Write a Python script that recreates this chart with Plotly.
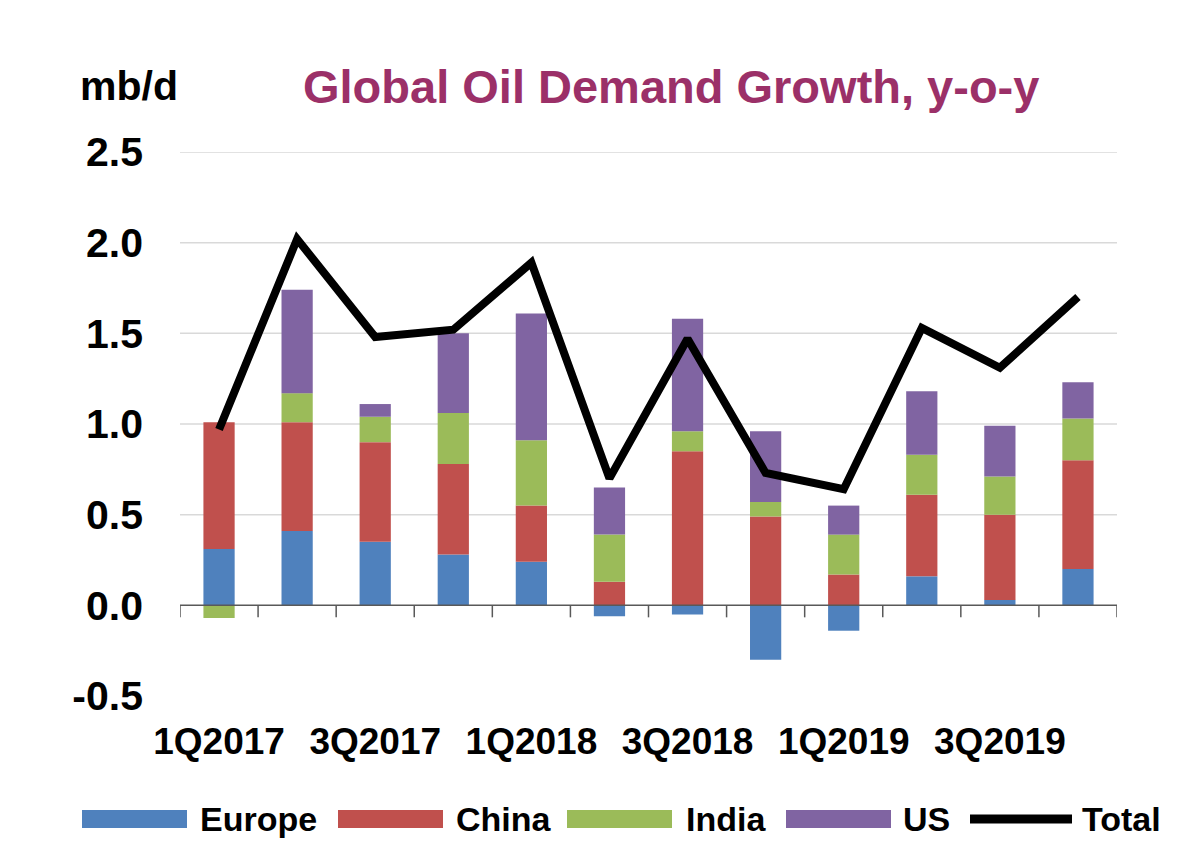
import plotly.graph_objects as go

quarters = ["1Q2017", "2Q2017", "3Q2017", "4Q2017", "1Q2018", "2Q2018",
            "3Q2018", "4Q2018", "1Q2019", "2Q2019", "3Q2019", "4Q2019"]
label_quarters = ["1Q2017", "3Q2017", "1Q2018", "3Q2018", "1Q2019", "3Q2019"]
europe = [0.31, 0.41, 0.35, 0.28, 0.24, -0.06, -0.05, -0.30, -0.14, 0.16, 0.03, 0.20]
china = [0.70, 0.60, 0.55, 0.50, 0.31, 0.13, 0.85, 0.49, 0.17, 0.45, 0.47, 0.60]
india = [-0.07, 0.16, 0.14, 0.28, 0.36, 0.26, 0.11, 0.08, 0.22, 0.22, 0.21, 0.23]
us = [0.00, 0.57, 0.07, 0.44, 0.70, 0.26, 0.62, 0.39, 0.16, 0.35, 0.28, 0.20]
total = [0.97, 2.02, 1.48, 1.52, 1.89, 0.70, 1.47, 0.73, 0.64, 1.53, 1.31, 1.70]
y_ticks = [-0.5, 0.0, 0.5, 1.0, 1.5, 2.0, 2.5]
y_tick_text = ["-0.5", "0.0", "0.5", "1.0", "1.5", "2.0", "2.5"]

series = [("Europe", europe, "#4F81BD"), ("China", china, "#C0504D"),
          ("India", india, "#9BBB59"), ("US", us, "#8064A2")]

FONT = "Liberation Sans, Arial, sans-serif"
W, H = 1200, 868
L, R, T, B = 180, 83, 152, 172
PW, PH = W - L - R, H - T - B


def px(x):
    return (x - L) / PW


def py(y):
    return (H - B - y) / PH


fig = go.Figure()
for name, vals, col in series:
    fig.add_trace(go.Bar(x=quarters, y=vals, name=name, marker_color=col,
                         marker_line_width=0, showlegend=False))
fig.add_trace(go.Scatter(x=quarters, y=total, name="Total", mode="lines",
                         line=dict(color="black", width=8), showlegend=False))

shapes = []
# gridlines (none at -0.5; zero gets the category axis line)
for v in y_ticks:
    if v > 0:
        shapes.append(dict(type="line", xref="paper", yref="y", x0=0, x1=1, y0=v, y1=v,
                           line=dict(color="#D9D9D9", width=1.5), layer="below"))
# category axis line at zero with boundary tick marks
shapes.append(dict(type="line", xref="paper", yref="y", x0=0, x1=1, y0=0, y1=0,
                   line=dict(color="#595959", width=1.5)))
tick_len = 12 / (PH / 3.0)
for i in range(len(quarters) + 1):
    shapes.append(dict(type="line", xref="x", yref="y", x0=i - 0.5, x1=i - 0.5,
                       y0=0, y1=-tick_len, line=dict(color="#595959", width=1.5)))

# custom legend with wide swatches
annotations = []
legend_items = [("Europe", "#4F81BD", 82, 187, 198), ("China", "#C0504D", 338, 443, 454),
                ("India", "#9BBB59", 567, 672, 684), ("US", "#8064A2", 786, 891, 901)]
ly = 819
LEG_FONT = dict(family=FONT, size=34, color="black", weight="bold")
for name, col, x0, x1, tx in legend_items:
    shapes.append(dict(type="rect", xref="paper", yref="paper", x0=px(x0), x1=px(x1),
                       y0=py(ly + 9), y1=py(ly - 9), fillcolor=col, line=dict(width=0)))
    annotations.append(dict(text=name, xref="paper", yref="paper", x=px(tx), y=py(ly),
                            xanchor="left", yanchor="middle", showarrow=False,
                            font=LEG_FONT))
shapes.append(dict(type="line", xref="paper", yref="paper", x0=px(970), x1=px(1072),
                   y0=py(ly), y1=py(ly), line=dict(color="black", width=9)))
annotations.append(dict(text="Total", xref="paper", yref="paper", x=px(1080), y=py(ly),
                        xanchor="left", yanchor="middle", showarrow=False,
                        font=LEG_FONT))

annotations.append(dict(text="mb/d", xref="paper", yref="paper", x=px(78), y=py(86),
                        xanchor="left", yanchor="middle", showarrow=False,
                        font=dict(family=FONT, size=41, color="black", weight="bold")))
annotations.append(dict(text="Global Oil Demand Growth, y-o-y", xref="paper", yref="paper",
                        x=px(671), y=py(86), xanchor="center", yanchor="middle",
                        showarrow=False,
                        font=dict(family=FONT, size=47, color="#9B3068", weight="bold")))

fig.update_layout(
    width=W, height=H,
    margin=dict(l=L, r=R, t=T, b=B),
    paper_bgcolor="white", plot_bgcolor="white",
    barmode="relative", bargap=0.6,
    shapes=shapes, annotations=annotations,
    font=dict(family=FONT, color="black"),
)
fig.update_xaxes(type="category", categoryorder="array", categoryarray=quarters,
                 range=[-0.5, len(quarters) - 0.5],
                 tickmode="array", tickvals=label_quarters, ticktext=label_quarters,
                 showgrid=False, zeroline=False, showline=False, ticks="",
                 ticklabelstandoff=20,
                 tickfont=dict(family=FONT, size=37, color="black", weight="bold"))
fig.update_yaxes(range=[-0.5, 2.5], tickmode="array", tickvals=y_ticks,
                 ticktext=y_tick_text, showgrid=False, zeroline=False, showline=False,
                 ticks="", ticklabelstandoff=36,
                 tickfont=dict(family=FONT, size=41, color="black", weight="bold"))

fig.write_html("out.html")
